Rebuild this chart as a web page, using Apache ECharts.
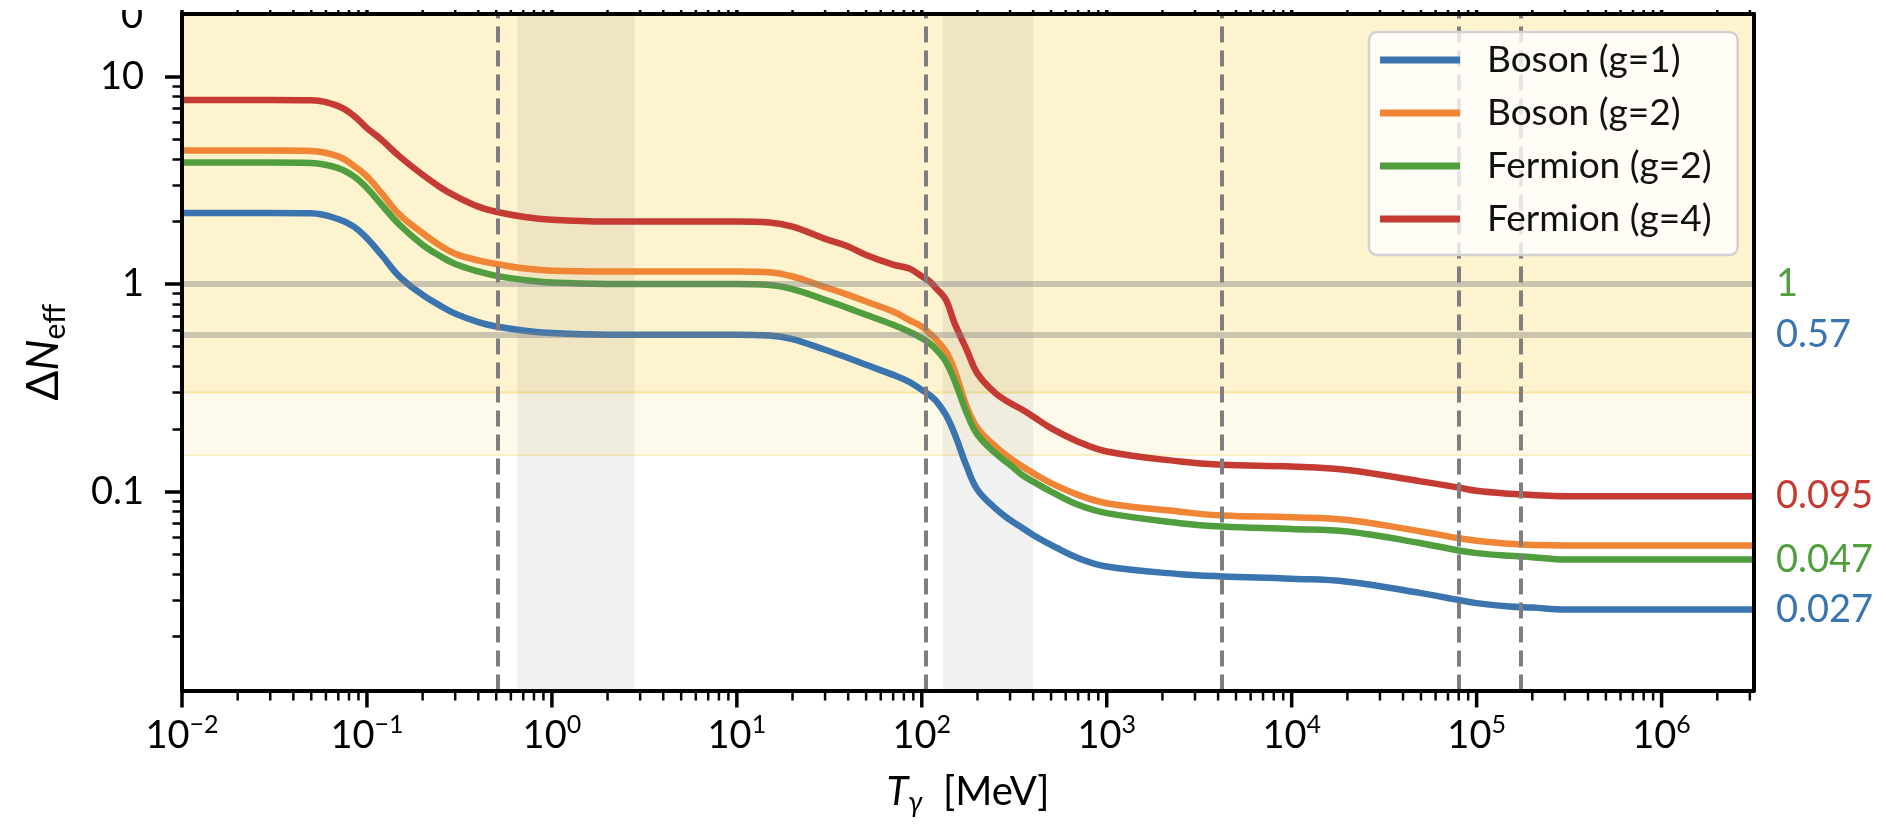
<!DOCTYPE html>
<html>
<head>
<meta charset="utf-8">
<script src="https://cdn.jsdelivr.net/npm/echarts@6/dist/echarts.min.js"></script>
<style>
  html, body { margin: 0; padding: 0; background: #ffffff; }
  #chart { width: 1886px; height: 829px; }
</style>
</head>
<body>
<div id="chart"></div>
<script>
// Photon temperature grid (MeV) shared by every curve
const temperatureMeV = [0.01, 0.03, 0.05, 0.07, 0.085, 0.1, 0.12, 0.15, 0.2, 0.25, 0.3, 0.4, 0.5, 0.7, 1,
  2, 5, 10, 15, 20, 30, 40, 50, 70, 85, 100, 110, 120, 135, 150, 175, 200, 250, 300, 350, 400, 500, 700, 1000,
  2500, 4200, 1e4, 2e4, 5e4, 8e4, 1e5, 1.5e5, 2e5, 3e5, 1e6, 3.16e6];

// Delta N_eff for each species at the temperatures above
const bosonG1 = [2.2, 2.2, 2.19, 2.055, 1.89, 1.66, 1.38, 1.086, 0.887, 0.785, 0.72, 0.655, 0.624, 0.597, 0.58,
  0.57, 0.57, 0.57, 0.565, 0.543, 0.482, 0.44, 0.408, 0.365, 0.339, 0.309, 0.292, 0.272, 0.234, 0.191, 0.132, 0.102,
  0.083, 0.073, 0.0667, 0.0618, 0.0553, 0.0478, 0.0435, 0.040, 0.039, 0.038, 0.0368, 0.0324, 0.030, 0.029, 0.0279,
  0.0276, 0.027, 0.027, 0.027];
const bosonG2 = [4.4, 4.4, 4.38, 4.12, 3.71, 3.30, 2.74, 2.16, 1.76, 1.53, 1.40, 1.30, 1.25, 1.19, 1.16,
  1.15, 1.15, 1.15, 1.14, 1.087, 0.966, 0.887, 0.823, 0.737, 0.672, 0.624, 0.58, 0.538, 0.473, 0.386, 0.257, 0.202,
  0.165, 0.145, 0.132, 0.1227, 0.1098, 0.0964, 0.0879, 0.080, 0.0766, 0.0752, 0.073, 0.0642, 0.0596, 0.058, 0.056,
  0.0553, 0.055, 0.055, 0.055];
const fermionG2 = [3.85, 3.85, 3.83, 3.62, 3.30, 2.90, 2.41, 1.93, 1.545, 1.36, 1.25, 1.15, 1.095, 1.047, 1.016,
  1.0, 1.0, 1.0, 0.99, 0.945, 0.839, 0.765, 0.711, 0.636, 0.59, 0.549, 0.519, 0.482, 0.423, 0.345, 0.239, 0.188,
  0.153, 0.1345, 0.12, 0.1117, 0.1, 0.0863, 0.0787, 0.0704, 0.0678, 0.066, 0.0642, 0.0564, 0.052, 0.0505, 0.049,
  0.0483, 0.047, 0.047, 0.047];
const fermionG4 = [7.7, 7.7, 7.68, 7.2, 6.46, 5.64, 4.95, 4.12, 3.36, 2.92, 2.66, 2.36, 2.23, 2.11, 2.04,
  2.0, 2.0, 2.0, 1.98, 1.89, 1.65, 1.516, 1.38, 1.24, 1.19, 1.09, 1.03, 0.95, 0.84, 0.65, 0.482, 0.37,
  0.298, 0.267, 0.248, 0.23, 0.202, 0.174, 0.156, 0.1395, 0.1345, 0.132, 0.127, 0.112, 0.1045, 0.1008, 0.0975,
  0.0962, 0.095, 0.095, 0.095];

const seriesNames = ['Boson (g=1)', 'Boson (g=2)', 'Fermion (g=2)', 'Fermion (g=4)'];
const seriesValues = [bosonG1, bosonG2, fermionG2, fermionG4];
const seriesColors = ['#3a75b0', '#ef8535', '#509e3d', '#c53a33'];

// Particle mass thresholds (MeV): e, mu, b, W, t
const massThresholdsMeV = [0.511, 105.66, 4180, 80379, 172760];
// Shaded temperature windows (MeV)
const shadedWindowsMeV = [[0.65, 2.8], [130, 400]];
// Horizontal reference levels
const referenceLevels = [1, 0.57];
// Sensitivity bands: lower edges, both reaching the top of the frame
const sensitivityBandLower = [0.15, 0.3];

// Axis ranges
const xRange = [0.01, 3.16e6];
const yRange = [0.011, 20];

// Tick labels
const xTickExponents = [-2, -1, 0, 1, 2, 3, 4, 5, 6];
const yMajorTicks = [0.1, 1, 10];
const yMajorLabels = ['0.1', '1', '10'];
const rightValues = [1, 0.57, 0.095, 0.047, 0.027];
const rightLabels = ['1', '0.57', '0.095', '0.047', '0.027'];
const rightLabelColors = ['#509e3d', '#3a75b0', '#c53a33', '#509e3d', '#3a75b0'];

const xMajorTicks = xTickExponents.map(e => Math.pow(10, e));
const xMinorTicks = [];
for (let e = -2; e <= 6; e++) {
  for (let m = 2; m <= 9; m++) {
    const v = m * Math.pow(10, e);
    if (v < xRange[1]) xMinorTicks.push(v);
  }
}
const yMinorTicks = [];
for (let e = -2; e <= 1; e++) {
  for (let m = 2; m <= 9; m++) {
    const v = m * Math.pow(10, e);
    if (v > yRange[0] && v < yRange[1]) yMinorTicks.push(v);
  }
}

const FONT = 'Lato, "DejaVu Sans", sans-serif';
const spine = { show: true, lineStyle: { color: '#000', width: 4 } };

function closeTo(a, b) { return Math.abs(a - b) <= 1e-9 * Math.max(Math.abs(a), Math.abs(b)); }
function pick(list, labels, v) {
  for (let i = 0; i < list.length; i++) if (closeTo(list[i], v)) return labels[i];
  return '';
}

function xAxisDef(pos, withLabels) {
  return {
    type: 'log', logBase: 10, min: xRange[0], max: xRange[1], position: pos, z: 10,
    axisLine: spine,
    splitLine: { show: false },
    axisTick: { show: false },
    axisLabel: withLabels ? {
      show: true, customValues: xMajorTicks, margin: 22,
      formatter: function (v) {
        const e = Math.round(Math.log10(v));
        return '{b|10}{e|' + (e < 0 ? '\u2212' + (-e) : e) + '}';
      },
      rich: {
        b: { fontFamily: FONT, fontSize: 38, color: '#000', lineHeight: 46 },
        e: { fontFamily: FONT, fontSize: 25, color: '#000', lineHeight: 30, verticalAlign: 'top' }
      }
    } : { show: false }
  };
}

function yAxisDef(pos, ticks, len, width, withLine) {
  return {
    type: 'log', logBase: 10, min: yRange[0], max: yRange[1], position: pos, z: 10,
    axisLine: withLine ? spine : { show: false },
    splitLine: { show: false },
    axisTick: ticks ? { show: true, customValues: ticks, length: len, lineStyle: { color: '#000', width: width } } : { show: false },
    axisLabel: { show: false }
  };
}

const xAxes = [xAxisDef('bottom', true), xAxisDef('top', false)];
xAxes[0].name = '{t|T}{g|\u03b3}{m|  [MeV]}';
xAxes[0].nameLocation = 'middle';
xAxes[0].nameGap = 78;
xAxes[0].nameTextStyle = {
  rich: {
    t: { fontFamily: FONT, fontStyle: 'italic', fontSize: 40, color: '#000', lineHeight: 48 },
    g: { fontFamily: FONT, fontStyle: 'italic', fontSize: 28, color: '#000', lineHeight: 22, verticalAlign: 'bottom' },
    m: { fontFamily: FONT, fontSize: 40, color: '#000', lineHeight: 48 }
  }
};

const yLeft = yAxisDef('left', yMajorTicks, 17, 3.5, true);
yLeft.axisLabel = {
  show: true, customValues: yMajorTicks, margin: 38,
  fontFamily: FONT, fontSize: 38, color: '#000',
  formatter: function (v) { return pick(yMajorTicks, yMajorLabels, v); }
};
yLeft.name = '{d|\u0394}{n|N}{s|eff}';
yLeft.nameLocation = 'middle';
yLeft.nameGap = 112;
yLeft.nameTextStyle = {
  rich: {
    d: { fontFamily: FONT, fontSize: 44, color: '#000', lineHeight: 52 },
    n: { fontFamily: FONT, fontStyle: 'italic', fontSize: 44, color: '#000', lineHeight: 52 },
    s: { fontFamily: FONT, fontSize: 30, color: '#000', lineHeight: 22, verticalAlign: 'bottom' }
  }
};
const yLeftMinor = yAxisDef('left', yMinorTicks, 9.5, 2.5, false);
const yRight = yAxisDef('right', null, 0, 0, true);
yRight.axisLabel = {
  show: true, customValues: rightValues, margin: 22,
  fontFamily: FONT, fontSize: 38,
  formatter: function (v) { return pick(rightValues, rightLabels, v); },
  color: function (v) { return pick(rightValues, rightLabelColors, Number(v)); }
};

// Temperature-axis ticks on the bottom and top frame edges (1 = major, 0 = minor)
const xTickSeries = {
  name: 'xticks', type: 'custom', coordinateSystem: 'cartesian2d', xAxisIndex: 0, yAxisIndex: 0,
  clip: false, silent: true, z: 30,
  data: xMajorTicks.map(v => [v, 1, 1]).concat(xMinorTicks.map(v => [v, 1, 0])),
  renderItem: function (params, api) {
    const major = api.value(2) === 1;
    const len = major ? 17 : 10;
    const w = major ? 3.5 : 2.5;
    const bottom = api.coord([api.value(0), yRange[0]]);
    const top = api.coord([api.value(0), yRange[1]]);
    const st = { stroke: '#000', lineWidth: w };
    return {
      type: 'group',
      children: [
        { type: 'line', shape: { x1: bottom[0], y1: bottom[1], x2: bottom[0], y2: bottom[1] + len }, style: st },
        { type: 'line', shape: { x1: top[0], y1: top[1], x2: top[0], y2: top[1] - len }, style: st }
      ]
    };
  }
};

const curveSeries = seriesNames.map((name, i) => ({
  name: name,
  type: 'line',
  data: temperatureMeV.map((t, k) => [t, seriesValues[i][k]]),
  showSymbol: false,
  smooth: 0.4,
  lineStyle: { color: seriesColors[i], width: 6.5 },
  itemStyle: { color: seriesColors[i] },
  z: 3,
  emphasis: { disabled: true }
}));

// Background layers: sensitivity bands and shaded windows
const bandSeries = {
  name: 'bands', type: 'line', data: [], z: 1, silent: true,
  markArea: {
    silent: true,
    data: [
      [{ yAxis: sensitivityBandLower[0], itemStyle: { color: '#fefaeb', borderColor: '#fcefc6', borderWidth: 2 } }, { yAxis: yRange[1] }],
      [{ yAxis: sensitivityBandLower[1], itemStyle: { color: '#fdf3cf', borderColor: '#f8e5a0', borderWidth: 2 } }, { yAxis: yRange[1] }]
    ].concat(shadedWindowsMeV.map(w => [
      { xAxis: w[0], itemStyle: { color: 'rgba(0,0,0,0.055)' } }, { xAxis: w[1] }
    ]))
  }
};

// Reference levels and mass thresholds, drawn over the curves
const overlaySeries = {
  name: 'overlay', type: 'line', data: [], z: 5, silent: true,
  markLine: {
    silent: true, symbol: ['none', 'none'], label: { show: false },
    animation: false,
    data: referenceLevels.map(v => ({ yAxis: v, lineStyle: { color: 'rgba(128,128,128,0.4)', width: 6, type: 'solid' } }))
      .concat(massThresholdsMeV.map(v => ({ xAxis: v, lineStyle: { color: '#7f7f7f', width: 4, type: [16, 8] } })))
  }
};

const chart = echarts.init(document.getElementById('chart'), null, { renderer: 'canvas' });
chart.setOption({
  animation: false,
  backgroundColor: '#ffffff',
  grid: { left: 182, right: 132, top: 14, bottom: 138.5, containLabel: false },
  xAxis: xAxes,
  yAxis: [yLeft, yLeftMinor, yRight],
  legend: {
    data: seriesNames,
    orient: 'vertical', left: 1369, top: 32, z: 20,
    icon: 'rect', itemWidth: 80, itemHeight: 7, itemGap: 13,
    padding: [8, 26, 16, 11],
    backgroundColor: 'rgba(255,255,255,0.8)',
    borderColor: '#d2d2d2', borderWidth: 2.5, borderRadius: 8,
    selectedMode: false,
    textStyle: { fontFamily: FONT, fontSize: 37, color: '#111', lineHeight: 40, padding: [0, 0, 0, 22] }
  },
  series: [bandSeries].concat(curveSeries, [overlaySeries, xTickSeries]),
  graphic: [
    { type: 'text', z: 50, x: 121, y: 16,
      style: { text: '0', font: '38px ' + FONT, fill: '#000', textVerticalAlign: 'middle' } },
    { type: 'rect', shape: { x: 0, y: 0, width: 1886, height: 10 }, style: { fill: '#ffffff' }, z: 60 }
  ]
});
</script>
</body>
</html>
